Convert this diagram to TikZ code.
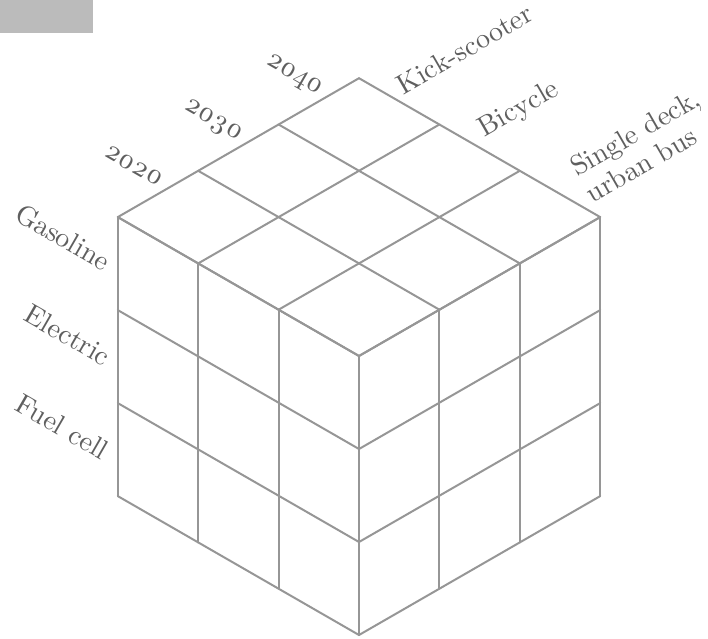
\documentclass[tikz,border=0pt]{standalone}
\usepackage{fontspec}
\setmainfont{lmroman10-regular.otf}
\usepackage{tikz}
\definecolor{gridgray}{RGB}{150,150,150}
\definecolor{labelgray}{RGB}{95,95,95}
\definecolor{tabgray}{RGB}{187,187,187}
\tikzset{
	cubeline/.style={draw=gridgray, line width=2pt, line cap=round, line join=round},
	axislabel/.style={font=\fontsize{28}{31}\selectfont, text=labelgray, inner sep=0pt},
	leftlabel/.style={axislabel, rotate=-30, anchor=base east},
	rightlabel/.style={axislabel, rotate=30, anchor=base west}
}

\begin{document}
\begin{tikzpicture}[x={(-80.4pt,46.3pt)}, y={(80.4pt,46.3pt)}, z={(0pt,93pt)}]
	\useasboundingbox (-359pt,-3pt) rectangle (349pt,635pt);
	
	%% ── Corner tab ──────────────────────────────────────────────────
	\fill[tabgray] (-359pt,635pt) rectangle (-266pt,602pt);
	
	%% ── Cube grid: top, left and right faces ────────────────────────
	\foreach \i in {0,...,3} {
		\draw[cubeline] (\i,0,3) -- (\i,3,3);
		\draw[cubeline] (0,\i,3) -- (3,\i,3);
		\draw[cubeline] (\i,0,0) -- (\i,0,3);
		\draw[cubeline] (0,0,\i) -- (3,0,\i);
		\draw[cubeline] (0,\i,0) -- (0,\i,3);
		\draw[cubeline] (0,0,\i) -- (0,3,\i);
	}
	
	%% ── Fuel labels (left face rows) ────────────────────────────────
	\node[leftlabel] (gasoline) at ([xshift=-14pt,yshift=-8pt]3,0,2.5) {Gasoline};
	\node[leftlabel] (electric) at ([xshift=-14pt,yshift=-10pt]3,0,1.5) {Electric};
	\node[leftlabel] (fuelcell) at ([xshift=-16pt,yshift=-11pt]3,0,0.5) {Fuel cell};
	
	%% ── Year labels (top-left edge) ─────────────────────────────────
	\node[leftlabel] (y2020) at ([yshift=7pt]3,0.5,3) {\oldstylenums{2020}};
	\node[leftlabel] (y2030) at ([yshift=7pt]3,1.5,3) {\oldstylenums{2030}};
	\node[leftlabel] (y2040) at ([yshift=7pt]3,2.5,3) {\oldstylenums{2040}};
	
	%% ── Vehicle labels (top-right edge) ─────────────────────────────
	\node[rightlabel] (kick) at ([xshift=4pt,yshift=6pt]2.5,3,3) {Kick-scooter};
	\node[rightlabel] (bicycle) at ([xshift=5pt,yshift=10pt]1.5,3,3) {Bicycle};
	\node[rightlabel, anchor=west, align=left] (bus) at ([xshift=20pt,yshift=12pt]0.5,3,3)
	{Single deck,\\urban bus};
\end{tikzpicture}
\end{document}
